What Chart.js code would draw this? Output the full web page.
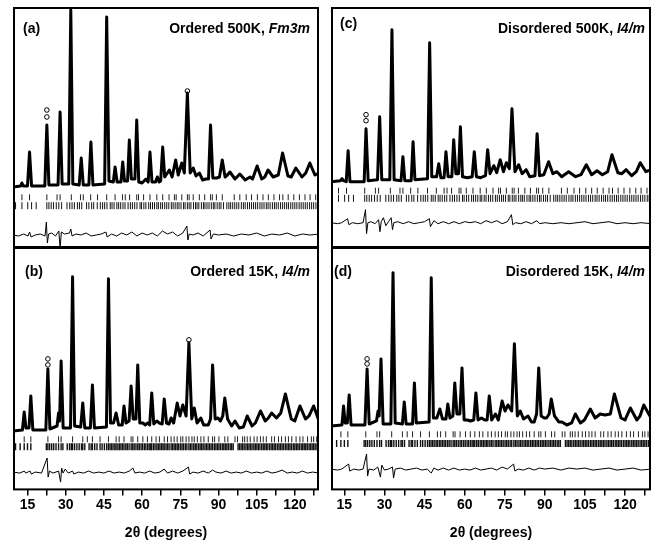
<!DOCTYPE html>
<html>
<head>
<meta charset="utf-8">
<script src="https://cdn.jsdelivr.net/npm/chart.js@4.4.0/dist/chart.umd.min.js"></script>
<style>
  body { margin: 0; background: #fff; width: 657px; height: 544px; position: relative; overflow: hidden;
         font-family: "Liberation Sans", Arial, sans-serif; }
  .pane { position: absolute; }
  .lab { position: absolute; font-weight: bold; font-size: 14px; line-height: 16px; color: #000; white-space: nowrap; }
</style>
</head>
<body>
<div class="pane" style="left:13px;top:7px;width:306px;height:241px"><canvas id="chartA"></canvas></div>
<div class="pane" style="left:13px;top:247px;width:306px;height:297px"><canvas id="chartB"></canvas></div>
<div class="pane" style="left:331px;top:7px;width:320px;height:241px"><canvas id="chartC"></canvas></div>
<div class="pane" style="left:331px;top:247px;width:320px;height:297px"><canvas id="chartD"></canvas></div>

<div class="lab" style="left:23px;top:20px">(a)</div>
<div class="lab" style="right:347px;top:20px">Ordered 500K, <i>Fm3m</i></div>
<div class="lab" style="left:25px;top:263px">(b)</div>
<div class="lab" style="right:347px;top:263px">Ordered 15K, <i>I4/m</i></div>
<div class="lab" style="left:340px;top:15px">(c)</div>
<div class="lab" style="right:12px;top:20px">Disordered 500K, <i>I4/m</i></div>
<div class="lab" style="left:334px;top:263px">(d)</div>
<div class="lab" style="right:12px;top:263px">Disordered 15K, <i>I4/m</i></div>

<script>
// profile vertices [2theta, intensity]
const aCalc = [[9.3,0],[12.3,1],[12.8,4],[13.3,1],[15.0,1],[15.8,35],[16.6,1],[21.8,1],[22.6,62],[23.4,2],[27.0,2],[27.8,75],[28.6,3],[31.2,3],[32.0,177],[32.8,3],[35.3,2],[36.1,29],[36.9,2],[39.1,2],[39.9,45],[40.7,2],[45.3,3],[46.1,170],[47.0,6],[48.7,5],[49.4,20],[50.2,5],[51.7,5],[52.4,25],[53.1,6],[54.3,6],[55.0,47],[55.8,8],[57.2,8],[57.9,67],[58.7,5],[60.0,4],[61.5,8],[62.4,5],[63.1,35],[63.9,5],[65.3,5],[66.0,10],[66.7,5],[67.3,6],[68.1,40],[68.9,10],[70.7,17],[71.8,10],[73.2,27],[74.2,12],[75.6,24],[76.6,14],[77.8,94],[78.9,14],[80.1,19],[81.2,11],[82.5,14],[83.8,7],[85.0,8],[86.1,8],[86.9,62],[87.8,9],[89.3,9],[90.4,10],[91.5,27],[92.6,10],[93.5,12],[94.5,15],[96.5,8],[98.4,13],[100.5,7],[102.4,10],[103.4,8],[105.2,21],[107.0,8],[108.2,10],[109.5,17],[111.5,10],[113.5,12],[115.2,34],[117.3,11],[118.6,10],[120.4,19],[122.8,10],[124.3,14],[125.9,24],[127.9,12],[129.5,14]];
const bCalc = [[9.3,0],[13.0,1],[13.7,19],[14.4,3],[15.6,3],[16.3,35],[17.1,1],[22.2,1],[23.0,62],[23.8,2],[26.6,5],[27.2,18],[27.6,10],[28.2,70],[29.0,3],[31.9,3],[32.7,154],[33.5,5],[35.9,4],[36.7,28],[37.5,3],[39.7,3],[40.5,46],[41.3,3],[46.0,4],[46.8,152],[47.6,8],[48.8,8],[49.8,18],[50.8,6],[52.2,6],[52.9,25],[53.7,8],[54.9,10],[55.7,45],[56.5,12],[57.6,12],[58.3,66],[59.1,8],[60.3,8],[61.3,6],[62.2,8],[63.0,6],[63.8,38],[64.6,7],[65.8,10],[66.7,8],[67.9,7],[68.7,32],[69.6,8],[70.6,7],[71.4,13],[72.4,8],[73.8,28],[74.9,15],[76.0,26],[77.3,15],[78.4,88],[79.5,12],[80.5,23],[81.6,8],[83.1,13],[84.2,6],[86.0,6],[86.9,12],[87.7,66],[88.7,12],[89.8,13],[90.8,10],[91.7,15],[92.5,33],[93.6,12],[95.2,5],[96.5,10],[98.2,3],[99.8,4],[101.3,15],[103.2,5],[104.5,8],[106.5,20],[108.4,10],[109.6,13],[110.9,18],[112.8,13],[114.5,18],[116.3,37],[118.6,12],[120.0,10],[122.0,25],[124.2,12],[125.6,15],[127.4,25],[129.5,10]];
const cCalc = [[10.0,0],[13.5,1],[14.1,3],[14.7,1],[15.7,0],[16.4,31],[17.1,0],[22.4,0],[23.1,53],[23.9,1],[27.4,2],[28.2,65],[29.0,2],[32.0,2],[32.8,152],[33.6,2],[36.2,1],[36.9,25],[37.6,1],[40.0,1],[40.7,40],[41.4,2],[46.1,3],[46.9,139],[47.7,5],[49.5,5],[50.3,18],[51.1,4],[52.3,4],[53.0,30],[53.8,5],[55.2,5],[55.9,42],[56.7,8],[57.7,8],[58.4,55],[59.2,5],[61.0,4],[62.8,5],[63.6,30],[64.4,5],[66.0,4],[67.8,6],[68.6,32],[69.5,8],[70.9,16],[72.0,9],[73.3,22],[74.5,10],[75.6,19],[76.7,13],[77.7,73],[78.8,10],[80.2,17],[81.5,8],[83.0,12],[84.3,5],[86.3,6],[87.1,48],[88.0,6],[89.6,7],[91.4,20],[93.0,8],[94.5,10],[96.3,5],[98.9,10],[101.5,5],[103.5,7],[105.5,17],[107.5,7],[109.5,11],[111.5,7],[113.5,10],[115.1,27],[117.3,9],[118.8,8],[120.4,12],[122.5,6],[124.2,10],[125.7,19],[127.8,10],[129.7,12]];
const dCalc = [[10.0,0],[14.1,1],[14.7,20],[15.3,3],[16.1,3],[16.8,31],[17.5,1],[22.7,1],[23.5,57],[24.3,2],[27.0,5],[27.6,15],[28.0,10],[28.7,67],[29.5,2],[32.4,2],[33.2,153],[34.0,3],[36.7,2],[37.4,24],[38.1,2],[40.5,2],[41.2,43],[41.9,3],[46.7,4],[47.5,148],[48.3,8],[49.6,8],[50.7,17],[51.7,7],[53.0,7],[53.7,22],[54.5,8],[55.6,10],[56.3,43],[57.1,12],[58.2,12],[59.0,58],[59.8,6],[61.0,6],[62.1,5],[63.4,6],[64.2,33],[65.0,6],[66.3,8],[67.5,6],[68.4,6],[69.2,30],[70.1,6],[71.5,12],[72.6,6],[74.0,25],[75.1,15],[76.2,21],[77.6,15],[78.6,82],[79.7,10],[80.8,15],[82.0,7],[83.7,10],[85.0,4],[86.0,4],[86.9,12],[87.7,58],[88.6,10],[89.8,8],[90.6,8],[91.6,12],[92.4,27],[93.6,10],[95.2,4],[96.4,4],[98.2,1],[100.0,3],[101.4,12],[103.3,3],[104.8,6],[107.0,17],[108.8,8],[110.7,12],[112.5,11],[114.5,12],[116.0,32],[118.5,8],[120.0,6],[122.0,18],[124.4,6],[125.6,10],[127.0,21],[129.7,8]];

// observed points standing clear of the fit
const aObs = [[22.6,77],[22.6,70],[77.8,96]];
const bObs = [[23.0,72],[23.0,66],[78.4,91]];
const cObs = [[23.1,67],[23.1,61]];
const dObs = [[23.5,67],[23.5,62]];

// reflection markers (2theta)
const hklTop1 = [12.8,15.8,22.6,26.6,27.8,32.2,35.8,36.9,39.8,42.5,46.1,49.4,52.3,53.4,55.1,57.9,58.6,60.6,63.1,65.8,68.1,70.6,72.7,73.4,75.6,77.8,78.5,80.1,82.5,84.6,86.9,87.6,89.2,91.5,96.2,98.4,100.9,103.0,105.3,107.5,109.6,111.8,114.0,115.3,117.4,119.6,121.8,124.0,126.0,128.2];
const hklTop2 = [10.3,12.8,15.1,16.6,18.4,22.6,23.4,24.3,25.2,26.3,27.3,28.4,30.5,31.6,32.5,33.4,34.6,35.4,36.3,38.2,39.1,40.2,41.0,42.4,43.6,44.5,45.3,46.2,47.5,48.2,49.0,50.1,50.8,51.6,52.5,53.3,54.5,55.4,56.2,57.1,58.0,59.2,59.8,60.7,61.5,62.6,63.3,64.1,64.9,65.8,66.4,67.3,68.0,68.9,69.7,70.5,71.5,72.2,73.0,73.8,74.5,75.3,76.3,76.9,77.8,78.5,79.2,80.2,81.0,81.6,82.3,83.3,84.1,84.7,85.5,86.3,87.2,88.0,88.6,89.5,90.3,91.0,92.0,93.3,94.1,94.8,95.6,96.4,97.2,98.0,99.0,99.8,100.5,101.4,102.2,103.0,103.8,104.6,105.4,106.3,107.1,107.9,108.8,109.5,110.3,111.2,112.0,112.7,113.5,114.4,115.2,116.0,116.8,117.5,118.4,119.2,120.0,120.8,121.7,122.5,123.3,124.1,124.9,125.8,126.6,127.4,128.3,129.0];
const hklBot1 = [13.7,16.3,23.0,27.2,28.2,32.7,36.7,38.5,40.5,43.5,46.8,49.8,51.0,52.9,55.7,56.4,58.3,60.3,62.1,63.8,65.5,66.8,68.7,70.0,71.4,72.6,73.8,75.2,76.0,77.3,78.4,79.6,80.5,81.7,83.1,84.3,86.0,87.7,88.5,90.2,92.5,93.7,96.5,97.5,99.5,100.3,101.3,102.5,104.0,105.2,106.5,107.6,108.8,110.9,112.0,113.6,114.8,116.3,117.5,118.8,120.5,122.0,123.2,125.0,126.5,127.4,128.6];
const hklBot2 = [10.3,12.1,13.7,15.0,16.3,22.4,23.0,23.7,24.5,25.3,26.2,27.2,28.2,28.9,30.6,31.5,32.2,32.7,33.5,34.4,35.3,36.2,36.7,37.5,39.2,40.0,40.5,41.4,42.3,43.5,44.3,45.2,46.1,46.8,47.4,48.0,48.6,49.3,49.8,50.5,51.1,51.7,52.3,52.9,53.6,54.2,54.9,55.7,56.3,56.9,57.6,58.3,58.9,59.6,60.2,60.9,61.5,62.2,62.8,63.4,63.8,64.5,65.1,65.8,66.4,67.0,67.6,68.2,68.7,69.4,70.0,70.6,71.4,72.0,72.6,73.2,73.8,74.4,75.1,75.7,76.3,77.0,77.6,78.4,79.0,79.6,80.3,80.9,81.5,82.2,82.8,83.4,84.0,84.7,85.3,85.9,86.5,87.1,87.7,88.4,89.0,89.6,90.2,90.8,91.5,92.1,92.7,93.3,93.9,94.6,95.2,95.8,97.7,98.3,98.9,99.5,100.1,100.8,101.4,102.0,102.6,103.2,103.9,104.5,105.1,105.7,106.3,107.0,107.6,108.2,108.8,109.4,110.1,110.7,111.3,111.9,112.5,113.2,113.8,114.4,115.0,115.6,116.3,116.9,117.5,118.1,118.7,119.4,120.0,120.6,121.2,121.8,122.5,123.1,123.7,124.3,124.9,125.6,126.2,126.8,127.4,128.0,128.7,129.3];

// difference curves, drawn under the markers
const aDiff = [[9.3,-48],[11.5,-49],[13.5,-47],[15.2,-49],[15.8,-45],[16.4,-50],[18.0,-48],[20.0,-47],[21.9,-49],[22.4,-35],[22.8,-56],[23.3,-47],[24.5,-46],[26.0,-49],[27.3,-44],[27.8,-61],[28.3,-45],[29.5,-47],[31.5,-46],[32.0,-42],[32.5,-49],[34.0,-47],[36.0,-48],[38.0,-46],[40.0,-49],[42.0,-48],[44.0,-47],[45.8,-45],[46.3,-50],[48.0,-47],[50.0,-49],[52.0,-46],[54.0,-48],[56.0,-45],[58.0,-49],[60.0,-46],[62.0,-48],[64.0,-46],[66.0,-49],[68.0,-44],[70.0,-47],[72.0,-45],[74.0,-49],[76.0,-46],[77.6,-39],[78.0,-53],[78.5,-47],[80.0,-48],[82.0,-46],[84.0,-49],[86.7,-43],[87.1,-52],[88.0,-47],[90.0,-48],[93.0,-47],[96.0,-49],[99.0,-47],[102.0,-48],[105.0,-46],[108.0,-49],[111.0,-47],[114.0,-48],[117.0,-46],[120.0,-49],[123.0,-47],[126.0,-48],[129.5,-47]];
const bDiff = [[9.3,-41],[12.0,-42],[13.7,-40],[14.3,-42],[16.0,-40],[16.5,-43],[18.0,-41],[20.5,-42],[22.7,-27],[23.1,-46],[23.6,-40],[25.0,-42],[27.2,-40],[28.0,-51],[28.4,-37],[29.0,-42],[29.8,-38],[31.0,-42],[32.7,-40],[33.2,-43],[35.0,-41],[37.0,-42],[39.0,-40],[41.0,-42],[43.0,-41],[45.0,-42],[47.0,-40],[49.0,-42],[51.0,-41],[53.0,-42],[55.0,-40],[56.4,-37],[57.2,-42],[59.0,-41],[61.0,-42],[63.0,-40],[65.0,-42],[67.0,-41],[68.7,-38],[70.0,-42],[72.0,-40],[74.0,-42],[76.0,-40],[78.2,-36],[78.7,-43],[80.0,-41],[82.0,-42],[84.0,-40],[86.0,-42],[87.7,-39],[89.0,-41],[91.0,-42],[93.0,-40],[95.0,-42],[97.0,-41],[99.0,-42],[101.0,-40],[103.0,-42],[105.0,-41],[107.0,-42],[109.0,-40],[111.0,-42],[113.0,-41],[115.0,-39],[117.0,-42],[119.0,-41],[121.0,-42],[123.0,-40],[125.0,-42],[127.0,-41],[129.5,-42]];
const cDiff = [[10.0,-41],[12.5,-42],[14.0,-41],[16.2,-37],[16.7,-43],[18.0,-41],[20.0,-42],[22.0,-41],[22.9,-28],[23.3,-52],[23.8,-41],[25.0,-40],[26.5,-42],[27.8,-38],[28.3,-50],[28.8,-40],[29.6,-36],[30.5,-44],[31.5,-40],[32.5,-36],[33.0,-48],[33.5,-41],[35.0,-40],[37.0,-42],[39.0,-40],[41.0,-42],[43.0,-41],[45.0,-40],[46.8,-37],[47.2,-45],[48.5,-39],[50.0,-42],[52.0,-40],[54.0,-42],[56.0,-40],[58.0,-42],[60.0,-40],[62.0,-41],[64.0,-40],[66.0,-42],[68.0,-39],[70.0,-41],[72.0,-39],[74.0,-42],[76.0,-40],[77.5,-33],[78.0,-43],[79.0,-41],[81.0,-42],[83.0,-40],[85.0,-42],[87.0,-39],[88.0,-42],[90.0,-41],[93.0,-42],[96.0,-41],[99.0,-42],[102.0,-41],[105.0,-40],[108.0,-42],[111.0,-41],[114.0,-40],[117.0,-42],[120.0,-41],[123.0,-42],[126.0,-41],[129.7,-42]];
const dDiff = [[10.0,-43],[12.5,-44],[14.0,-43],[16.6,-38],[17.0,-45],[18.5,-43],[20.5,-44],[22.0,-43],[23.3,-28],[23.7,-50],[24.2,-43],[26.0,-44],[27.5,-41],[28.5,-51],[29.0,-39],[30.0,-44],[31.5,-43],[33.0,-41],[33.4,-52],[34.0,-43],[36.0,-42],[38.0,-44],[40.0,-43],[42.0,-42],[44.0,-44],[46.0,-43],[47.5,-47],[48.5,-42],[50.0,-44],[52.0,-42],[54.0,-44],[56.0,-42],[58.0,-44],[60.0,-43],[62.0,-44],[64.0,-42],[66.0,-44],[68.0,-43],[70.0,-42],[72.0,-44],[74.0,-41],[76.0,-43],[78.3,-38],[78.8,-45],[80.0,-43],[82.0,-44],[84.0,-42],[86.0,-44],[88.0,-42],[90.0,-43],[93.0,-42],[96.0,-44],[99.0,-42],[102.0,-43],[105.0,-42],[108.0,-44],[111.0,-43],[114.0,-42],[117.0,-44],[120.0,-43],[123.0,-42],[126.0,-44],[129.7,-43]];

const FONT = { family: '"Liberation Sans", Arial, sans-serif', size: 14, weight: 'bold' };

const pts = (pairs) => pairs.map((p) => ({ x: p[0], y: p[1] }));
const marks = (xs, row) => xs.map((x) => ({ x: x, y: row }));

// box around the plotting area
const framePlugin = {
  id: 'frame',
  afterDraw(chart) {
    const { ctx, chartArea: a } = chart;
    ctx.save();
    ctx.strokeStyle = '#000';
    ctx.lineWidth = 2;
    ctx.strokeRect(a.left + 1, a.top + 1, a.right - a.left - 2, a.bottom - a.top - 2);
    ctx.restore();
  }
};

const makePanel = (p) => {
  new Chart(p.id, {
    type: 'scatter',
    data: {
      datasets: [
        { data: pts(p.diff), showLine: true, borderColor: '#000', borderWidth: 1, pointRadius: 0 },
        { data: marks(p.hkl1, p.row1), pointStyle: 'line', rotation: 90, pointRadius: 3,
          pointBorderColor: '#222', pointBorderWidth: 1 },
        { data: marks(p.hkl2, p.row2), pointStyle: 'line', rotation: 90, pointRadius: 3.5,
          pointBorderColor: '#111', pointBorderWidth: p.dense ? 1.4 : 1 },
        { data: pts(p.calc), showLine: true, borderColor: '#000', borderWidth: 3, pointRadius: 0,
          borderJoinStyle: 'round' },
        { data: pts(p.obs), pointRadius: 2.3, pointBackgroundColor: '#fff',
          pointBorderColor: '#000', pointBorderWidth: 1 }
      ]
    },
    options: {
      responsive: true,
      maintainAspectRatio: false,
      animation: false,
      events: [],
      layout: { padding: 0, autoPadding: false },
      plugins: { legend: { display: false }, tooltip: { enabled: false } },
      scales: {
        x: {
          type: 'linear',
          min: p.xMin,
          max: p.xMax,
          display: p.axis,
          border: { display: false },
          grid: { drawOnChartArea: false, drawTicks: true, tickLength: 5, color: '#000', lineWidth: 1.5 },
          ticks: {
            stepSize: 7.5,
            includeBounds: false,
            autoSkip: false,
            maxRotation: 0,
            padding: 1,
            color: '#000',
            font: FONT,
            callback: (v) => (v % 15 === 0 ? v : '')
          },
          title: { display: true, text: '2θ (degrees)', color: '#000', font: FONT, padding: { top: 11, bottom: 2 } }
        },
        y: { display: false, min: p.yMin, max: p.yMax }
      }
    },
    plugins: [framePlugin]
  });
};

const panels = [
  { id: 'chartA', calc: aCalc, obs: aObs, diff: aDiff, hkl1: hklTop1, hkl2: hklTop2, row1: -10.3, row2: -18.7,
    xMin: 9.3, xMax: 129.5, yMin: -61, yMax: 180, axis: false, dense: false },
  { id: 'chartB', calc: bCalc, obs: bObs, diff: bDiff, hkl1: hklBot1, hkl2: hklBot2, row1: -8.3, row2: -15.7,
    xMin: 9.3, xMax: 129.5, yMin: -59.3, yMax: 183.7, axis: true, dense: true },
  { id: 'chartC', calc: cCalc, obs: cObs, diff: cDiff, hkl1: hklTop1, hkl2: hklTop2, row1: -9, row2: -16.6,
    xMin: 10, xMax: 129.7, yMin: -66.3, yMax: 174.7, axis: false, dense: false },
  { id: 'chartD', calc: dCalc, obs: dObs, diff: dDiff, hkl1: hklBot1, hkl2: hklBot2, row1: -8.3, row2: -17.6,
    xMin: 10, xMax: 129.7, yMin: -64.3, yMax: 178.7, axis: true, dense: true }
];

panels.forEach(makePanel);
</script>
</body>
</html>
